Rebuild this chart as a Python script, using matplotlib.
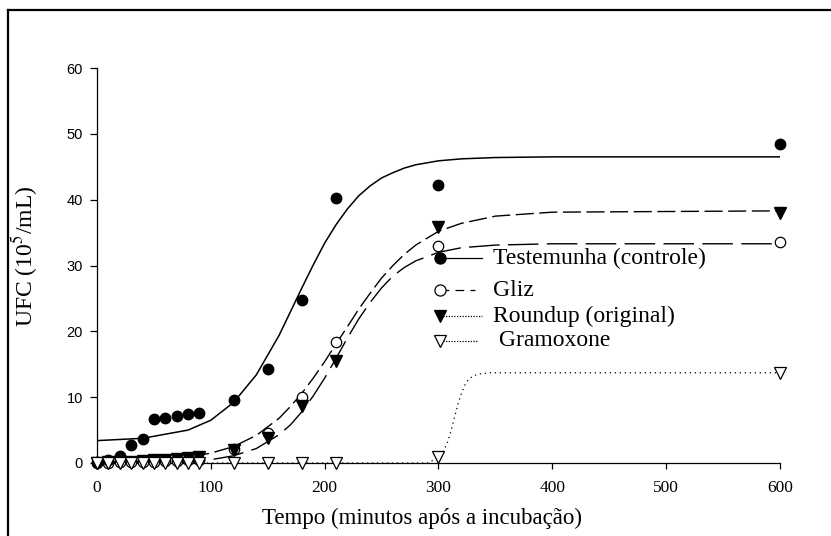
import matplotlib
matplotlib.use("Agg")
import matplotlib.pyplot as plt
from matplotlib.lines import Line2D

plt.rcParams['mathtext.fontset'] = 'stix'

# measured points (UFC x 10^5/mL)
tempo = [0, 10, 20, 30, 40, 50, 60, 70, 80, 90, 120, 150, 180, 210, 300, 600]
testemunha = [0.2, 0.5, 1.1, 2.7, 3.7, 6.7, 6.9, 7.1, 7.4, 7.6, 9.6, 14.3, 24.7, 40.2, 42.2, 48.5]
gliz = [0.0, 0.0, 0.1, 0.1, 0.2, 0.2, 0.3, 0.3, 0.4, 0.5, 2.2, 4.6, 10.0, 18.4, 32.9, 33.5]
roundup = [0.0, 0.1, 0.1, 0.2, 0.3, 0.4, 0.5, 0.6, 0.8, 0.9, 1.9, 3.8, 8.6, 15.5, 35.8, 37.9]
gramoxone = [0, 0, 0, 0, 0, 0, 0, 0, 0, 0, 0, 0, 0, 0, 0.9, 13.7]

# fitted sigmoid curves
curva_t = [0, 40, 80, 100, 120, 140, 160, 170, 180, 190, 200, 210, 220, 230,
           240, 250, 260, 270, 280, 300, 320, 350, 400, 600]
curva_testemunha = [3.4, 3.75, 5.0, 6.5, 9.2, 13.4, 19.4, 23.0, 26.6, 30.1, 33.4, 36.2,
                    38.6, 40.6, 42.1, 43.3, 44.1, 44.8, 45.3, 45.9, 46.2, 46.4, 46.5, 46.5]
curva_gliz = [0.0, 0.1, 0.3, 0.5, 1.1, 2.2, 4.3, 5.8, 7.8, 10.2, 12.9, 15.9,
              19.0, 21.9, 24.4, 26.6, 28.4, 29.7, 30.7, 32.0, 32.7, 33.1, 33.3, 33.3]
curva_roundup = [0.1, 0.3, 0.9, 1.5, 2.5, 4.2, 6.8, 8.6, 10.6, 12.9, 15.4, 18.1,
                 20.7, 23.4, 25.8, 28.1, 30.0, 31.7, 33.1, 35.2, 36.4, 37.5, 38.1, 38.3]
curva_gram_t = [0, 290, 300, 305, 308, 311, 314, 317, 320, 323, 326, 330, 335, 345, 600]
curva_gramoxone = [0, 0.0, 0.8, 2.0, 3.2, 4.9, 6.9, 8.9, 10.5, 11.8, 12.6, 13.2, 13.5, 13.7, 13.7]

fig = plt.figure(figsize=(8.31, 5.36), dpi=100)
ax = fig.add_axes([97 / 831, 1 - 463 / 536, 683 / 831, 395 / 536])

# curves
ax.plot(curva_t, curva_testemunha, color='black', lw=1.1, zorder=2)
ax.plot(curva_t, curva_gliz, color='black', lw=1.0, dashes=(22, 6), zorder=2)
ax.plot(curva_t, curva_roundup, color='black', lw=1.0, dashes=(13, 4), zorder=2)
ax.plot(curva_gram_t, curva_gramoxone, color='black', lw=0.9, dashes=(1, 3), zorder=2)

# points
ax.plot(tempo, testemunha, 'o', ms=7.5, mfc='black', mec='black', clip_on=False, zorder=4)
ax.plot(tempo, gliz, 'o', ms=7.5, mfc='white', mec='black', mew=0.9, clip_on=False, zorder=3)
ax.plot(tempo, roundup, 'v', ms=8, mfc='black', mec='black', clip_on=False, zorder=4)
ax.plot(tempo, gramoxone, 'v', ms=8.5, mfc='white', mec='black', mew=0.9, clip_on=False, zorder=5)

ax.set_xlim(0, 600)
ax.set_ylim(0, 60)
ax.set_xticks(range(0, 601, 100))
ax.set_yticks(range(0, 61, 10))
for s in ['top', 'right']:
    ax.spines[s].set_visible(False)
for s in ['left', 'bottom']:
    ax.spines[s].set_linewidth(0.9)
ax.tick_params(axis='x', direction='out', length=4, width=0.9, pad=8)
ax.tick_params(axis='y', direction='out', length=5, width=0.9, pad=5)
for lab in ax.get_xticklabels():
    lab.set_fontfamily('Liberation Serif')
    lab.set_fontsize(12.5)
for lab in ax.get_yticklabels():
    lab.set_fontfamily('Liberation Sans')
    lab.set_fontsize(10.5)

ax.set_xlabel('Tempo (minutos após a incubação)', fontfamily='Liberation Serif', fontsize=16.5)
ax.xaxis.set_label_coords((422 - 97) / 683, (463 - 508) / 395)
ax.set_ylabel('UFC (10$^5$/mL)', fontfamily='Liberation Serif', fontsize=17)
ax.yaxis.set_label_coords((40 - 97) / 683, (463 - 256) / 395)

# legend drawn by hand (marker at the left end of the sample line)
def px(x, y):
    return (x - 97) / 683, (463 - y) / 395

leg = [
    ('Testemunha (controle)', 'o', 'black', (None, None), 258, 482, 493),
    ('Gliz', 'o', 'white', (7, 5), 290, 475, 493),
    ('Roundup (original)', 'v', 'black', (1, 1.2), 316, 482, 493),
    (' Gramoxone', 'v', 'white', (1, 1.2), 341, 477, 493),
]
for texto, mk, fc, ds, ly, xend, xt in leg:
    x0, y0 = px(440, ly)
    x1, _ = px(xend, ly)
    ln = Line2D([x0, x1], [y0, y0], transform=ax.transAxes, color='black', lw=0.9, zorder=6)
    if ds[0] is not None:
        ln.set_dashes(ds)
    ax.add_line(ln)
    ax.plot([x0], [y0], mk, transform=ax.transAxes, ms=9 if mk == 'v' else 8,
            mfc=fc, mec='black', mew=0.9, zorder=7, clip_on=False)
    xt_f, _ = px(xt, ly)
    ax.text(xt_f, y0, texto, transform=ax.transAxes, fontfamily='Liberation Serif',
            fontsize=17, va='center', ha='left')

# outer frame of the original figure
fig.add_artist(Line2D([8 / 831, 8 / 831], [0, 1 - 10 / 536], color='black', lw=1.6))
fig.add_artist(Line2D([8 / 831, 1], [1 - 10 / 536, 1 - 10 / 536], color='black', lw=1.6))

fig.savefig('out.png', dpi=100)
